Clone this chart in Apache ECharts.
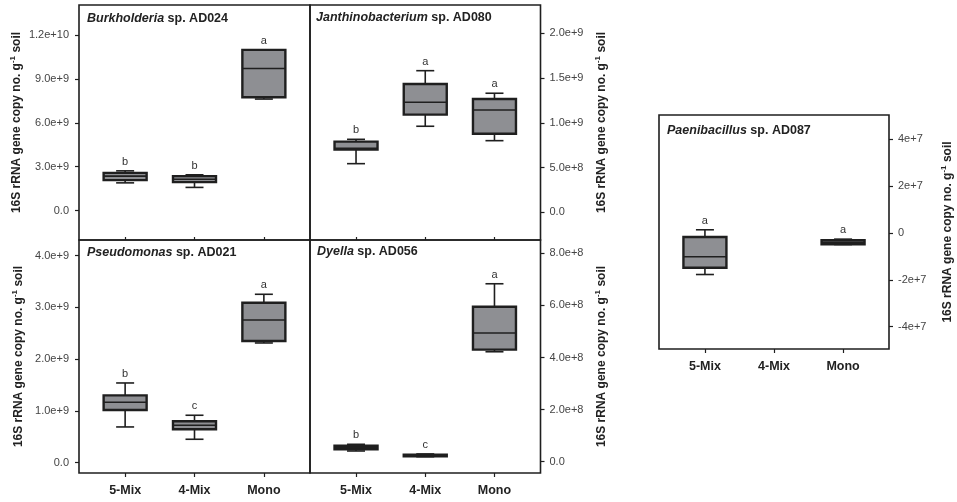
<!DOCTYPE html>
<html><head><meta charset="utf-8">
<script src="https://cdn.jsdelivr.net/npm/echarts@6/dist/echarts.min.js"></script>
<style>html,body{margin:0;padding:0;background:#fff}#c{width:957px;height:502px}</style>
</head><body><div id="c"></div>
<script>
// ---------- DATA ----------
const categories = ['5-Mix', '4-Mix', 'Mono'];
const categoryPos = [1, 2, 3];

// each box: [lower whisker, Q1, median, Q3, upper whisker]
const burkholderia5Mix = [1.90e9, 2.085e9, 2.36e9, 2.58e9, 2.72e9];
const burkholderia4Mix = [1.59e9, 1.95e9, 2.15e9, 2.36e9, 2.45e9];
const burkholderiaMono = [7.62e9, 7.74e9, 9.71e9, 1.098e10, 1.098e10];
const burkholderiaLetters = ['b', 'b', 'a'];

const janthino5Mix = [0.543e9, 0.70e9, 0.715e9, 0.789e9, 0.815e9];
const janthino4Mix = [0.961e9, 1.091e9, 1.229e9, 1.434e9, 1.582e9];
const janthinoMono = [0.80e9, 0.878e9, 1.143e9, 1.266e9, 1.330e9];
const janthinoLetters = ['b', 'a', 'a'];

const pseudo5Mix = [0.69e9, 1.018e9, 1.167e9, 1.30e9, 1.54e9];
const pseudo4Mix = [0.452e9, 0.645e9, 0.723e9, 0.80e9, 0.916e9];
const pseudoMono = [2.313e9, 2.35e9, 2.757e9, 3.09e9, 3.254e9];
const pseudoLetters = ['b', 'c', 'a'];

const dyella5Mix = [0.41e8, 0.476e8, 0.55e8, 0.61e8, 0.667e8];
const dyella4Mix = [0.19e8, 0.207e8, 0.23e8, 0.27e8, 0.296e8];
const dyellaMono = [4.22e8, 4.30e8, 4.94e8, 5.95e8, 6.83e8];
const dyellaLetters = ['b', 'c', 'a'];

const paeni5Mix = [-1.77e7, -1.48e7, -1.01e7, -0.17e7, 0.14e7];
const paeni4Mix = null; // no data
const paeniMono = [-0.49e7, -0.48e7, -0.40e7, -0.31e7, -0.26e7];
const paeniLetters = ['a', '', 'a'];

// tick values and labels
const burkholderiaTicks = [0, 3e9, 6e9, 9e9, 1.2e10];
const burkholderiaTickLabels = ['0.0', '3.0e+9', '6.0e+9', '9.0e+9', '1.2e+10'];
const janthinoTicks = [0, 5e8, 1e9, 1.5e9, 2e9];
const janthinoTickLabels = ['0.0', '5.0e+8', '1.0e+9', '1.5e+9', '2.0e+9'];
const pseudoTicks = [0, 1e9, 2e9, 3e9, 4e9];
const pseudoTickLabels = ['0.0', '1.0e+9', '2.0e+9', '3.0e+9', '4.0e+9'];
const dyellaTicks = [0, 2e8, 4e8, 6e8, 8e8];
const dyellaTickLabels = ['0.0', '2.0e+8', '4.0e+8', '6.0e+8', '8.0e+8'];
const paeniTicks = [-4e7, -2e7, 0, 2e7, 4e7];
const paeniTickLabels = ['-4e+7', '-2e+7', '0', '2e+7', '4e+7'];

const yName = '16S rRNA gene copy no. g{sup|-1} soil';

// ---------- STYLE / LAYOUT ----------
const FONT = '"Liberation Sans", Arial, Helvetica, sans-serif';
const EDGE = '#1f1f1f';
const FILL = '#8e8f93';
const BOX_W = 43, CAP_W = 18;

const panels = [
  { title: '{i|Burkholderia} sp. AD024', boxes: [burkholderia5Mix, burkholderia4Mix, burkholderiaMono], letters: burkholderiaLetters,
    ticks: burkholderiaTicks, labels: burkholderiaTickLabels, min: -2e9, max: 1.404e10,
    grid: { left: 79, top: 5, width: 231, height: 235 }, side: 'left', xLabels: false, tx: 87, ty: 12, nameGap: 52 },
  { title: '{i|Janthinobacterium} sp. AD080', boxes: [janthino5Mix, janthino4Mix, janthinoMono], letters: janthinoLetters,
    ticks: janthinoTicks, labels: janthinoTickLabels, min: -3.1e8, max: 2.316e9,
    grid: { left: 310, top: 5, width: 230.5, height: 235 }, side: 'right', xLabels: false, tx: 316, ty: 11, nameGap: 53 },
  { title: '{i|Pseudomonas} sp. AD021', boxes: [pseudo5Mix, pseudo4Mix, pseudoMono], letters: pseudoLetters,
    ticks: pseudoTicks, labels: pseudoTickLabels, min: -2e8, max: 4.303e9,
    grid: { left: 79, top: 240, width: 231, height: 233 }, side: 'left', xLabels: true, tx: 87, ty: 246, nameGap: 52 },
  { title: '{i|Dyella} sp. AD056', boxes: [dyella5Mix, dyella4Mix, dyellaMono], letters: dyellaLetters,
    ticks: dyellaTicks, labels: dyellaTickLabels, min: -4.35e7, max: 8.51e8,
    grid: { left: 310, top: 240, width: 230.5, height: 233 }, side: 'right', xLabels: true, tx: 317, ty: 245, nameGap: 53 },
  { title: '{i|Paenibacillus} sp. AD087', boxes: [paeni5Mix, paeni4Mix, paeniMono], letters: paeniLetters,
    ticks: paeniTicks, labels: paeniTickLabels, min: -4.95e7, max: 5.04e7,
    grid: { left: 659, top: 115, width: 231, height: 234 }, side: 'right', xLabels: true, tx: 667, ty: 124, nameGap: 51 }
];

function nearestLabel(v, ticks, labels) {
  let bi = 0, bd = Infinity;
  ticks.forEach((t, i) => { const d = Math.abs(t - v); if (d < bd) { bd = d; bi = i; } });
  return labels[bi];
}

function makeRenderer(letters) {
  return function (params, api) {
    const x = api.value(0);
    const pLo = api.coord([x, api.value(1)]);
    const pQ1 = api.coord([x, api.value(2)]);
    const pMed = api.coord([x, api.value(3)]);
    const pQ3 = api.coord([x, api.value(4)]);
    const pHi = api.coord([x, api.value(5)]);
    const cx = pMed[0], hw = BOX_W / 2, cw = CAP_W / 2;
    const ln = (x1, y1, x2, y2, w) => ({ type: 'line', shape: { x1, y1, x2, y2 }, style: { stroke: EDGE, lineWidth: w } });
    const letter = letters[api.value(6)];
    return {
      type: 'group',
      children: [
        ln(cx, pQ3[1], cx, pHi[1], 1.6),
        ln(cx, pQ1[1], cx, pLo[1], 1.6),
        ln(cx - cw, pHi[1], cx + cw, pHi[1], 1.6),
        ln(cx - cw, pLo[1], cx + cw, pLo[1], 1.6),
        { type: 'rect', shape: { x: cx - hw, y: pQ3[1], width: 2 * hw, height: pQ1[1] - pQ3[1] },
          style: { fill: FILL, stroke: EDGE, lineWidth: 2.4 } },
        ln(cx - hw, pMed[1], cx + hw, pMed[1], 1.6),
        { type: 'text', x: cx, y: pHi[1] - 9,
          style: { text: letter, fill: '#333', font: '11px ' + FONT, align: 'center', verticalAlign: 'middle',
                   textAlign: 'center', textVerticalAlign: 'middle' } }
      ]
    };
  };
}

const grids = [], xAxes = [], yAxes = [], series = [], titles = [];
panels.forEach((p, i) => {
  grids.push(Object.assign({ show: true, borderColor: EDGE, borderWidth: 1.6, backgroundColor: 'transparent' }, p.grid));
  xAxes.push({
    gridIndex: i, type: 'value', min: 0.335, max: 3.665, position: 'bottom',
    splitLine: { show: false }, axisLine: { show: false, onZero: false },
    axisTick: { show: true, customValues: categoryPos, inside: !p.xLabels, length: p.xLabels ? 4 : 3, lineStyle: { color: EDGE, width: 1.2 } },
    axisLabel: { show: p.xLabels, customValues: categoryPos, margin: 11,
      formatter: v => categories[Math.round(v) - 1],
      fontFamily: FONT, fontSize: 12.5, fontWeight: 'bold', color: '#222' }
  });
  yAxes.push({
    gridIndex: i, type: 'value', position: p.side, min: p.min, max: p.max,
    splitLine: { show: false }, axisLine: { show: false, onZero: false },
    axisTick: { show: true, customValues: p.ticks, length: 4, lineStyle: { color: EDGE, width: 1.2 } },
    axisLabel: { customValues: p.ticks, margin: p.side === 'left' ? 10 : 9,
      formatter: v => nearestLabel(v, p.ticks, p.labels),
      fontFamily: FONT, fontSize: 11, color: '#444' },
    name: yName, nameLocation: 'middle', nameRotate: 90, nameGap: p.nameGap,
    nameTextStyle: { fontFamily: FONT, fontSize: 12, fontWeight: 'bold', color: '#222', lineHeight: 16,
      rich: { sup: { fontFamily: FONT, fontSize: 8, fontWeight: 'bold', color: '#222', verticalAlign: 'top', lineHeight: 16, padding: [0, 0, 6, 0] } } }
  });
  const data = [];
  p.boxes.forEach((b, k) => { if (b) data.push([categoryPos[k]].concat(b).concat([k])); });
  series.push({
    type: 'custom', xAxisIndex: i, yAxisIndex: i, data: data,
    encode: { x: 0, y: [1, 2, 3, 4, 5] },
    renderItem: makeRenderer(p.letters), silent: true
  });
  titles.push({
    text: p.title, left: p.tx, top: p.ty, padding: 0,
    textStyle: { fontFamily: FONT, fontSize: 12.5, fontWeight: 'bold', color: '#222',
      rich: { i: { fontFamily: FONT, fontSize: 12.5, fontWeight: 'bold', fontStyle: 'italic', color: '#222' } } }
  });
});

const chart = echarts.init(document.getElementById('c'), null, { renderer: 'canvas' });
chart.setOption({
  animation: false, backgroundColor: '#fff',
  title: titles, grid: grids, xAxis: xAxes, yAxis: yAxes, series: series
});
</script></body></html>
